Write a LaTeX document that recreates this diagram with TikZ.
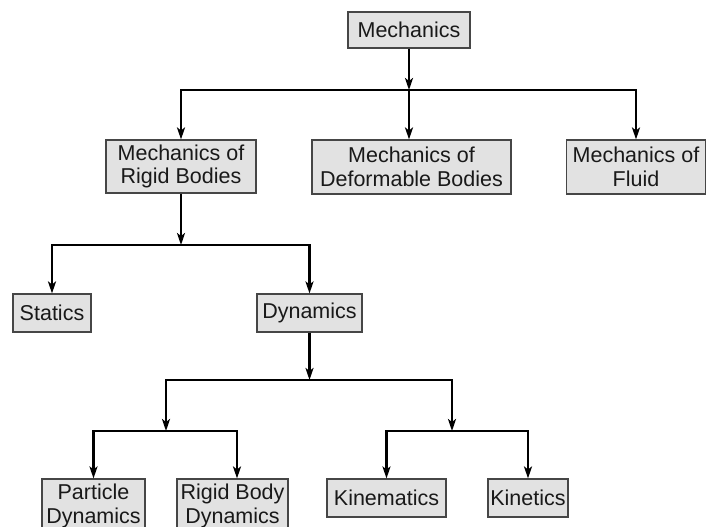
\documentclass[tikz,border=0pt]{standalone}
\usepackage{fontspec}
\setmainfont{Liberation Sans}
\usetikzlibrary{arrows.meta}
\definecolor{boxfill}{RGB}{226,226,226}
\definecolor{boxline}{RGB}{70,70,70}
\definecolor{txt}{RGB}{25,25,25}
\begin{document}
\begin{tikzpicture}[x=1pt,y=-1pt,
  box/.style={draw=boxline,line width=1.1pt,fill=boxfill,inner sep=0pt,align=center,
    text=txt,font=\fontsize{21.5}{23.5}\selectfont},
  arr/.style={line width=2.2pt,-{Stealth[length=12pt,width=8pt,inset=3pt]}}]
\path[use as bounding box] (0,0) rectangle (707,527);
\clip (0,0) rectangle (707,527);
% nodes
\node[box,minimum width=122pt,minimum height=36pt] (mech) at (409,30) {Mechanics};
\node[box,minimum width=150pt,minimum height=53pt] (rigid) at (181,166.5) {Mechanics of\\Rigid Bodies};
\node[box,minimum width=199pt,minimum height=54pt] (deform) at (411.5,167) {Mechanics of\\Deformable Bodies};
\node[box,minimum width=139pt,minimum height=54pt] (fluid) at (636,167) {Mechanics of\\Fluid};
\node[box,minimum width=78pt,minimum height=38pt] (statics) at (52,313) {Statics};
\node[box,minimum width=105pt,minimum height=38pt] (dyn) at (309.5,313) {Dynamics};
\node[box,minimum width=103pt,minimum height=54pt] (part) at (93.5,506) {Particle\\Dynamics};
\node[box,minimum width=111pt,minimum height=54pt] (rbd) at (232.5,506) {Rigid Body\\Dynamics};
\node[box,minimum width=119pt,minimum height=38pt] (kinem) at (386.5,498) {Kinematics};
\node[box,minimum width=80pt,minimum height=38pt] (kinet) at (528,498) {Kinetics};
% junctions
\coordinate (j1) at (409,90);
\coordinate (j2) at (181,245);
\coordinate (j3) at (309.5,380);
\coordinate (j4) at (166,431);
\coordinate (j5) at (452,431);
% connectors
\draw[arr] (mech) -- (j1);
\draw[arr] (j1) -| (rigid);
\draw[arr] (j1) -- (deform.north -| j1);
\draw[arr] (j1) -| (fluid);
\draw[arr] (rigid) -- (j2);
\draw[arr] (j2) -| (statics);
\draw[arr] (j2) -| (dyn);
\draw[arr] (dyn) -- (j3);
\draw[arr] (j3) -| (j4);
\draw[arr] (j3) -| (j5);
\draw[arr] (j4) -| (part);
\draw[arr] (j4) -| ([xshift=4.5pt]rbd.north);
\draw[arr] (j5) -| (kinem);
\draw[arr] (j5) -| (kinet);
\end{tikzpicture}
\end{document}
